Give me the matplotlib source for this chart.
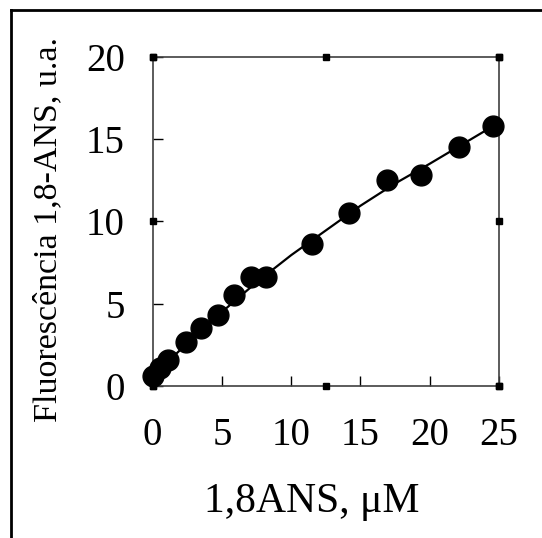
import matplotlib.pyplot as plt
from matplotlib.lines import Line2D

# measured points (1,8-ANS titration)
conc = [0, 0.5, 1.1, 2.4, 3.5, 4.7, 5.9, 7.1, 8.2, 11.5, 14.2, 16.9, 19.4, 22.1, 24.6]
fluor = [0.6, 1.1, 1.6, 2.7, 3.5, 4.3, 5.5, 6.6, 6.6, 8.6, 10.5, 12.5, 12.8, 14.5, 15.8]

# fitted curve
fit_x = [0, 2.5, 5, 7.5, 10, 12.5, 15, 17.5, 20, 22.5, 24.6]
fit_y = [0.6, 2.6, 4.5, 6.3, 7.95, 9.45, 10.95, 12.3, 13.5, 14.75, 15.8]

x_ticks = [0, 5, 10, 15, 20, 25]
y_ticks = [0, 5, 10, 15, 20]
x_marks = [0, 12.5, 25]
y_marks = [0, 10, 20]

plt.rcParams['font.family'] = ['Liberation Serif', 'DejaVu Serif']

fig = plt.figure(figsize=(5.42, 5.38), dpi=100)
ax = fig.add_axes([0.2817, 0.2825, 0.9207 - 0.2817, 0.8946 - 0.2825])

ax.plot(fit_x, fit_y, color='black', lw=1.6, zorder=2)
ax.plot(conc, fluor, 'o', color='black', ms=15, zorder=3, clip_on=False)

ax.set_xlim(0, 25)
ax.set_ylim(0, 20)
ax.set_xticks(x_ticks)
ax.set_yticks(y_ticks)
ax.tick_params(direction='in', length=7, width=1, labelsize=28, pad=22)
ax.tick_params(axis='y', pad=20)

# small square marks on all four sides
for yv in (0, 20):
    ax.plot(x_marks, [yv] * len(x_marks), 's', color='black', ms=4, clip_on=False, zorder=4)
for xv in (0, 25):
    ax.plot([xv] * len(y_marks), y_marks, 's', color='black', ms=4, clip_on=False, zorder=4)

for s in ax.spines.values():
    s.set_color('#404040')
    s.set_linewidth(1.2)

fig.text(312 / 542, 1 - 502 / 538, '1,8ANS, μM', fontsize=30, ha='center', va='center')
fig.text(48 / 542, 1 - 229 / 538, 'Fluorescência 1,8-ANS, u.a.', rotation=90, fontsize=24.5,
         ha='center', va='center')

# outer frame (only top and left visible)
fig.add_artist(Line2D([11 / 542, 1.0], [1 - 10 / 538, 1 - 10 / 538], color='black', lw=2))
fig.add_artist(Line2D([11 / 542, 11 / 542], [0, 1 - 10 / 538], color='black', lw=2))

fig.savefig('out.png', dpi=100)
